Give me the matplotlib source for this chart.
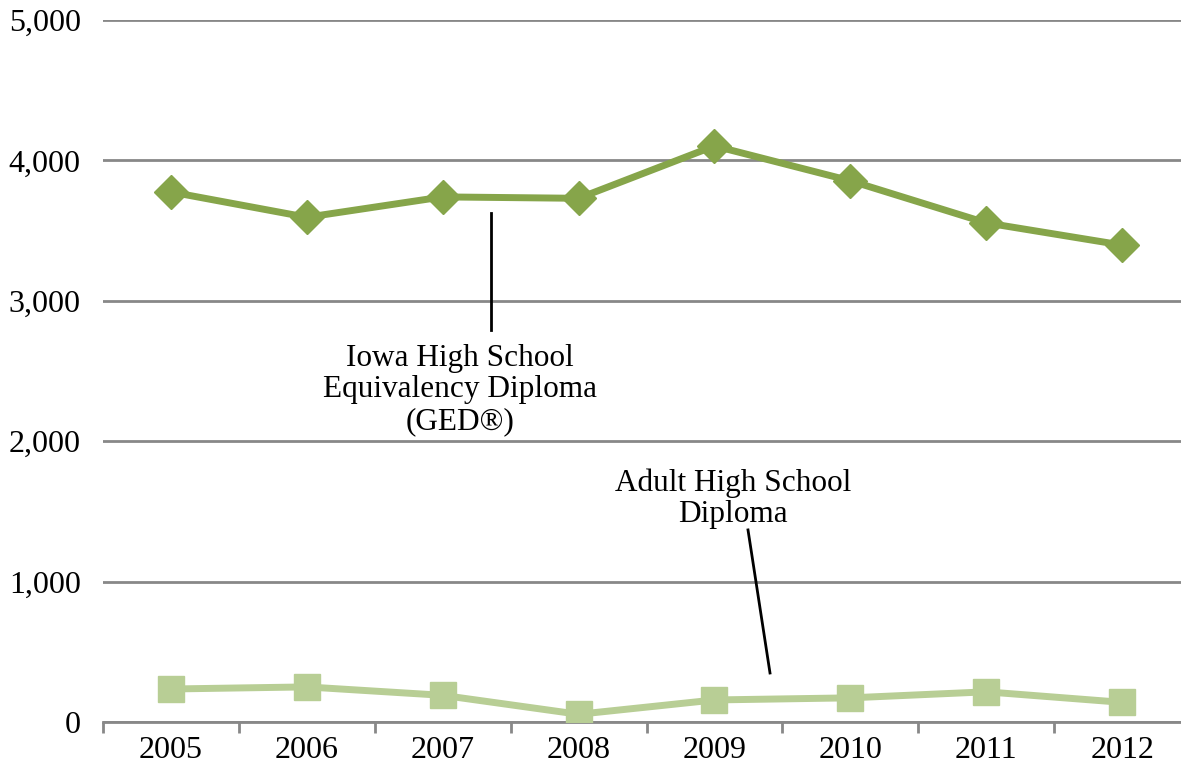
import matplotlib.pyplot as plt
from matplotlib.ticker import FuncFormatter

years = ["2005", "2006", "2007", "2008", "2009", "2010", "2011", "2012"]
ged = [3775, 3595, 3740, 3730, 4103, 3855, 3555, 3397]
adult = [235, 250, 190, 55, 157, 172, 215, 140]

ged_color = "#86A54A"
adult_color = "#B8CE95"
grid_color = "#888888"

plt.rcParams["font.family"] = "Liberation Serif"

fig = plt.figure(figsize=(11.81, 7.70), dpi=100)
ax = fig.add_axes([103 / 1181, 48 / 770, 1087 / 1181, 702 / 770])

x = list(range(len(years)))
ax.plot(x, ged, color=ged_color, lw=5, marker="D", ms=17, zorder=3)
ax.plot(x, adult, color=adult_color, lw=5, marker="s", ms=19, zorder=3)

ax.set_xlim(-0.5, len(years) - 0.5)
ax.set_ylim(0, 5000)
ax.set_yticks(range(0, 5001, 1000))
ax.yaxis.set_major_formatter(FuncFormatter(lambda v, p: f"{int(v):,}"))
ax.set_xticks(x)
ax.set_xticklabels(years)
ax.set_xticks([i - 0.5 for i in range(len(years) + 1)], minor=True)

ax.grid(axis="y", color=grid_color, lw=2)
ax.set_axisbelow(True)
for s in ["top", "right", "left"]:
    ax.spines[s].set_visible(False)
ax.spines["bottom"].set_color(grid_color)
ax.spines["bottom"].set_linewidth(2)

ax.tick_params(axis="y", length=0, pad=16, labelsize=23)
ax.tick_params(axis="x", which="major", length=0, pad=10, labelsize=23)
ax.tick_params(axis="x", which="minor", length=8, width=2, color=grid_color)

# labels with leader lines
ax.plot([2.355, 2.355], [3625, 2792], color="black", lw=2)
ax.text(2.127, 2365, "Iowa High School\nEquivalency Diploma\n(GED®)",
        ha="center", va="center", fontsize=22.5, linespacing=1.12)
ax.plot([4.247, 4.409], [1368, 349], color="black", lw=2)
ax.text(4.137, 1590, "Adult High School\nDiploma",
        ha="center", va="center", fontsize=22.5, linespacing=1.12)

fig.savefig("out.png", dpi=100)
